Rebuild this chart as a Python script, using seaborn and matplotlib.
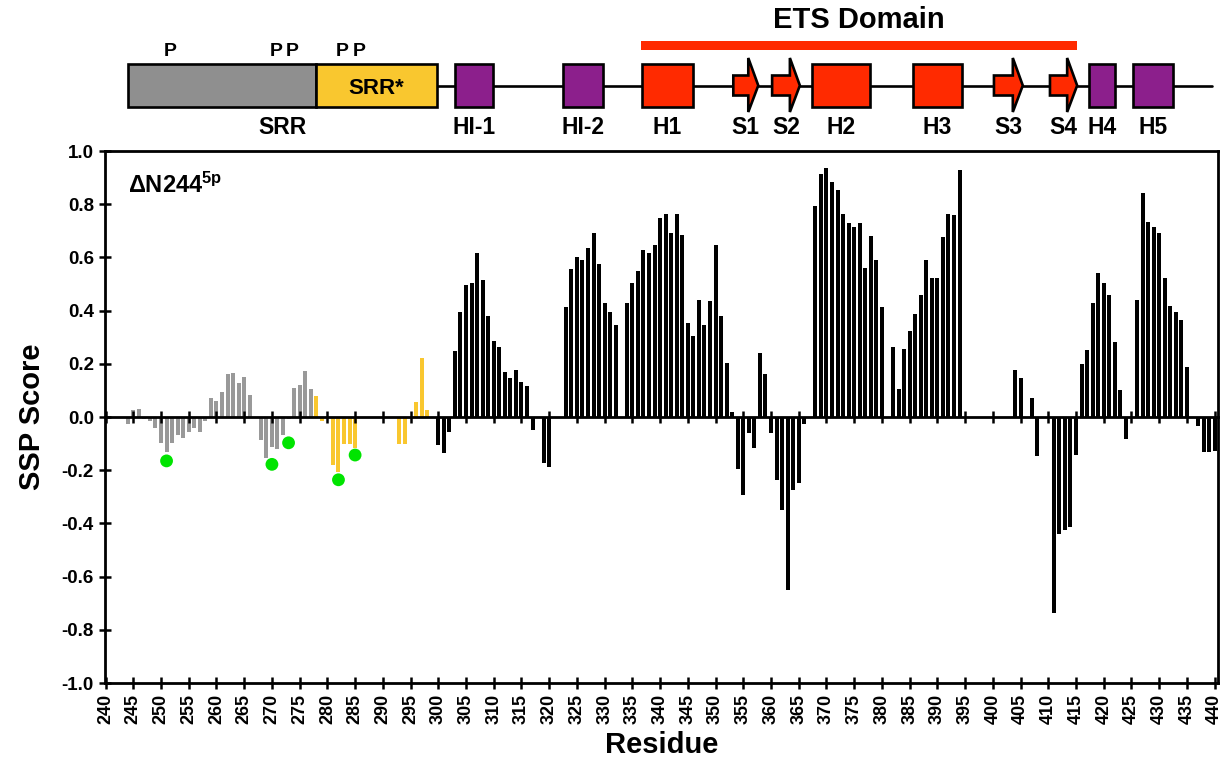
import numpy as np
import pandas as pd
import matplotlib
matplotlib.use("Agg")
import matplotlib.pyplot as plt
from matplotlib.patches import Rectangle, Polygon
import seaborn as sns

# ---------------- data ----------------
# SRR region (grey bars)
srr_res = [244, 245, 246, 247, 248, 249, 250, 251, 252, 253, 254, 255, 256, 257, 258,
           259, 260, 261, 262, 263, 264, 265, 266, 267, 268, 269, 270, 271, 272, 273,
           274, 275, 276, 277]
srr_ssp = [-0.025, 0.025, 0.03, -0.007, -0.016, -0.04, -0.097, -0.13, -0.097, -0.066,
           -0.08, -0.057, -0.041, -0.057, -0.016, 0.07, 0.06, 0.093, 0.16, 0.166,
           0.127, 0.15, 0.082, -0.005, -0.085, -0.153, -0.112, -0.12, -0.066, -0.007,
           0.108, 0.12, 0.173, 0.104]
# SRR* region (yellow bars)
srrs_res = [278, 279, 281, 282, 283, 284, 285, 293, 294, 296, 297, 298]
srrs_ssp = [0.08, -0.016, -0.18, -0.205, -0.10, -0.10, -0.115, -0.10, -0.10, 0.058,
            0.222, 0.025]
# Core (black bars)
core_res = [300, 301, 302, 303, 304, 305, 306, 307, 308, 309, 310, 311, 312, 313, 314,
            315, 316, 317, 319, 320, 323, 324, 325, 326, 327, 328, 329, 330, 331, 332,
            334, 335, 336, 337, 338, 339, 340, 341, 342, 343, 344, 345, 346, 347, 348,
            349, 350, 351, 352, 353, 354, 355, 356, 357, 358, 359, 360, 361, 362, 363,
            364, 365, 366, 368, 369, 370, 371, 372, 373, 374, 375, 376, 377, 378, 379,
            380, 382, 383, 384, 385, 386, 387, 388, 389, 390, 391, 392, 393, 394, 404,
            405, 407, 408, 411, 412, 413, 414, 415, 416, 417, 418, 419, 420, 421, 422,
            423, 424, 426, 427, 428, 429, 430, 431, 432, 433, 434, 435, 437, 438, 439,
            440]
core_ssp = [-0.105, -0.137, -0.056, 0.248, 0.396, 0.497, 0.504, 0.617, 0.514, 0.379,
            0.287, 0.265, 0.171, 0.148, 0.178, 0.133, 0.118, -0.049, -0.174, -0.187,
            0.414, 0.555, 0.602, 0.59, 0.635, 0.69, 0.575, 0.429, 0.396, 0.345,
            0.428, 0.503, 0.55, 0.629, 0.617, 0.645, 0.747, 0.763, 0.69, 0.763,
            0.685, 0.355, 0.305, 0.44, 0.345, 0.435, 0.645, 0.379, 0.203, 0.02,
            -0.197, -0.292, -0.059, -0.117, 0.242, 0.163, -0.059, -0.236, -0.349, -0.652,
            -0.276, -0.248, -0.028, 0.792, 0.912, 0.936, 0.883, 0.854, 0.763, 0.730,
            0.714, 0.730, 0.562, 0.679, 0.591, 0.414, 0.263, 0.105, 0.255, 0.324,
            0.389, 0.458, 0.59, 0.521, 0.521, 0.678, 0.763, 0.759, 0.928, 0.178,
            0.146, 0.073, -0.148, -0.738, -0.44, -0.423, -0.414, -0.144, 0.198, 0.253,
            0.428, 0.541, 0.503, 0.457, 0.282, 0.10, -0.081, 0.44, 0.842, 0.734,
            0.713, 0.69, 0.521, 0.417, 0.395, 0.366, 0.189, -0.034, -0.133, -0.133,
            -0.129]
# phosphorylated sites (green dots)
phos_res = [251, 270, 273, 282, 285]
phos_dot = [-0.165, -0.178, -0.097, -0.236, -0.143]

# domain diagram (residue ranges)
box_names = ["HI-1", "HI-2", "H1", "H2", "H3", "H4", "H5"]
box_start = [303.0, 322.5, 336.7, 367.4, 385.6, 417.4, 425.3]
box_end = [309.9, 329.7, 346.0, 377.9, 394.4, 422.0, 432.5]
box_kind = ["purple", "purple", "red", "red", "red", "purple", "purple"]
strand_names = ["S1", "S2", "S3", "S4"]
strand_start = [353.2, 360.2, 400.2, 410.3]
strand_end = [357.7, 365.2, 405.4, 415.2]
srr_box = (244.0, 277.9)
srrs_box = (277.9, 299.8)
ets_range = (336.5, 415.2)
line_end = 439.5

x_ticks = list(range(240, 441, 5))
y_ticks = [-1.0, -0.8, -0.6, -0.4, -0.2, 0.0, 0.2, 0.4, 0.6, 0.8, 1.0]

# ---------------- style ----------------
sns.set_style("white")
plt.rcParams["font.family"] = ["Liberation Sans", "DejaVu Sans"]
plt.rcParams["font.weight"] = "bold"
plt.rcParams["text.color"] = "black"
plt.rcParams["axes.labelcolor"] = "black"
plt.rcParams["xtick.color"] = "black"
plt.rcParams["ytick.color"] = "black"
plt.rcParams["axes.edgecolor"] = "black"
plt.rcParams["mathtext.fontset"] = "custom"
plt.rcParams["mathtext.rm"] = "Liberation Sans:bold"
plt.rcParams["mathtext.it"] = "Liberation Sans:bold"
plt.rcParams["mathtext.bf"] = "Liberation Sans:bold"
plt.rcParams["axes.unicode_minus"] = False

GREY = "#999999"
YELLOW = "#F9C72F"
BLACK = "#000000"
GREEN = "#00E400"
RED = "#FF2A00"
PURPLE = "#8C1F8C"
BOXGREY = "#8F8F8F"

W, H = 1222, 763
fig = plt.figure(figsize=(W / 100, H / 100), dpi=100)
L, R, T, B = 105, 1218, 151, 683
ax = fig.add_axes([L / W, 1 - B / H, (R - L) / W, (B - T) / H])

df = pd.DataFrame({
    "residue": srr_res + srrs_res + core_res,
    "ssp": srr_ssp + srrs_ssp + core_ssp,
    "region": ["SRR"] * len(srr_res) + ["SRR*"] * len(srrs_res) + ["core"] * len(core_res),
})
sns.barplot(data=df, x="residue", y="ssp", hue="region",
            palette={"SRR": GREY, "SRR*": YELLOW, "core": BLACK},
            native_scale=True, dodge=False, width=0.72, errorbar=None,
            legend=False, saturation=1, linewidth=0, ax=ax)
sns.scatterplot(x=phos_res, y=phos_dot, color=GREEN, s=85, edgecolor="none",
                ax=ax, zorder=6, legend=False)

xmin, xmax = 239.9, 440.6
ax.set_xlim(xmin, xmax)
ax.set_ylim(-1, 1)
ax.set_xticks(x_ticks)
ax.set_xticklabels([str(t) for t in x_ticks], rotation=90, fontsize=13,
                   fontweight="bold", color="black")
ax.set_yticks(y_ticks)
ax.set_yticklabels([f"{t:.1f}" for t in y_ticks], fontsize=13.5, fontweight="bold",
                   color="black")
ax.tick_params(axis="both", direction="inout", length=8, width=1.8, pad=4,
               top=False, right=False, bottom=True, left=True, colors="black")
for s in ax.spines.values():
    s.set_linewidth(2)
    s.set_color("black")
    s.set_visible(True)
ax.grid(False)

ax.set_xlabel("Residue", fontsize=21, fontweight="bold", color="black")
ax.set_ylabel("SSP Score", fontsize=21, fontweight="bold", color="black")
ax.xaxis.label.set_va("center")
ax.yaxis.label.set_va("center")
ax.xaxis.set_label_coords(0.5, -(745 - B) / (B - T))
ax.yaxis.set_label_coords(-(L - 32) / (R - L), 0.5)

# zero line with crossing ticks
sec = ax.secondary_xaxis(0.5)
sec.set_xticks(x_ticks)
sec.tick_params(direction="inout", length=9, width=1.8, labeltop=False,
                labelbottom=False, colors="black")
for s in sec.spines.values():
    s.set_linewidth(2)
    s.set_color("black")
sec.set_zorder(5)

ax.text((128 - L) / (R - L), 1 - (185 - T) / (B - T), r"ΔN244$^{5p}$",
        transform=ax.transAxes, fontsize=17, fontweight="bold", color="black",
        ha="left", va="center")

# ---------------- domain diagram ----------------
dax = fig.add_axes([L / W, 1 - 150 / H, (R - L) / W, 150 / H])
dax.set_xlim(xmin, xmax)
dax.set_ylim(150, 0)
dax.axis("off")

y0, y1, ymid = 64, 107, 85.5
lw = 1.9
dax.plot([srrs_box[1], line_end], [ymid, ymid], color="black", lw=lw, zorder=1)

dax.add_patch(Rectangle((srr_box[0], y0), srr_box[1] - srr_box[0], y1 - y0,
                        facecolor=BOXGREY, edgecolor="black", lw=lw, zorder=2))
dax.add_patch(Rectangle((srrs_box[0], y0), srrs_box[1] - srrs_box[0], y1 - y0,
                        facecolor=YELLOW, edgecolor="black", lw=lw, zorder=2))
dax.text(sum(srrs_box) / 2, 88, "SRR*", ha="center", va="center",
         fontsize=16, fontweight="bold", color="black", zorder=3)
dax.text((srr_box[0] + srrs_box[1]) / 2, 128, "SRR", ha="center", va="center",
         fontsize=16.5, fontweight="bold", color="black")

for r in phos_res:
    dax.text(r + 0.7, 52, "P", ha="center", va="center", fontsize=14,
             fontweight="bold", color="black")

for name, s, e, k in zip(box_names, box_start, box_end, box_kind):
    dax.add_patch(Rectangle((s, y0), e - s, y1 - y0,
                            facecolor=PURPLE if k == "purple" else RED,
                            edgecolor="black", lw=lw, zorder=2))
    dax.text((s + e) / 2, 128, name, ha="center", va="center", fontsize=16.5,
             fontweight="bold", color="black")

head = 1.8
for name, s, e in zip(strand_names, strand_start, strand_end):
    hs = e - head
    pts = [(s, 75.5), (hs, 75.5), (hs, 58), (e, ymid), (hs, 112), (hs, 95.5), (s, 95.5)]
    dax.add_patch(Polygon(pts, closed=True, facecolor=RED, edgecolor="black",
                          lw=lw, joinstyle="miter", zorder=3))
    dax.text((s + e) / 2, 128, name, ha="center", va="center", fontsize=16.5,
             fontweight="bold", color="black")

dax.add_patch(Rectangle((ets_range[0], 40.5), ets_range[1] - ets_range[0], 9,
                        facecolor=RED, edgecolor="none", zorder=2))
dax.text(sum(ets_range) / 2, 20, "ETS Domain", ha="center", va="center",
         fontsize=21, fontweight="bold", color="black")

fig.savefig("out.png", dpi=100)
